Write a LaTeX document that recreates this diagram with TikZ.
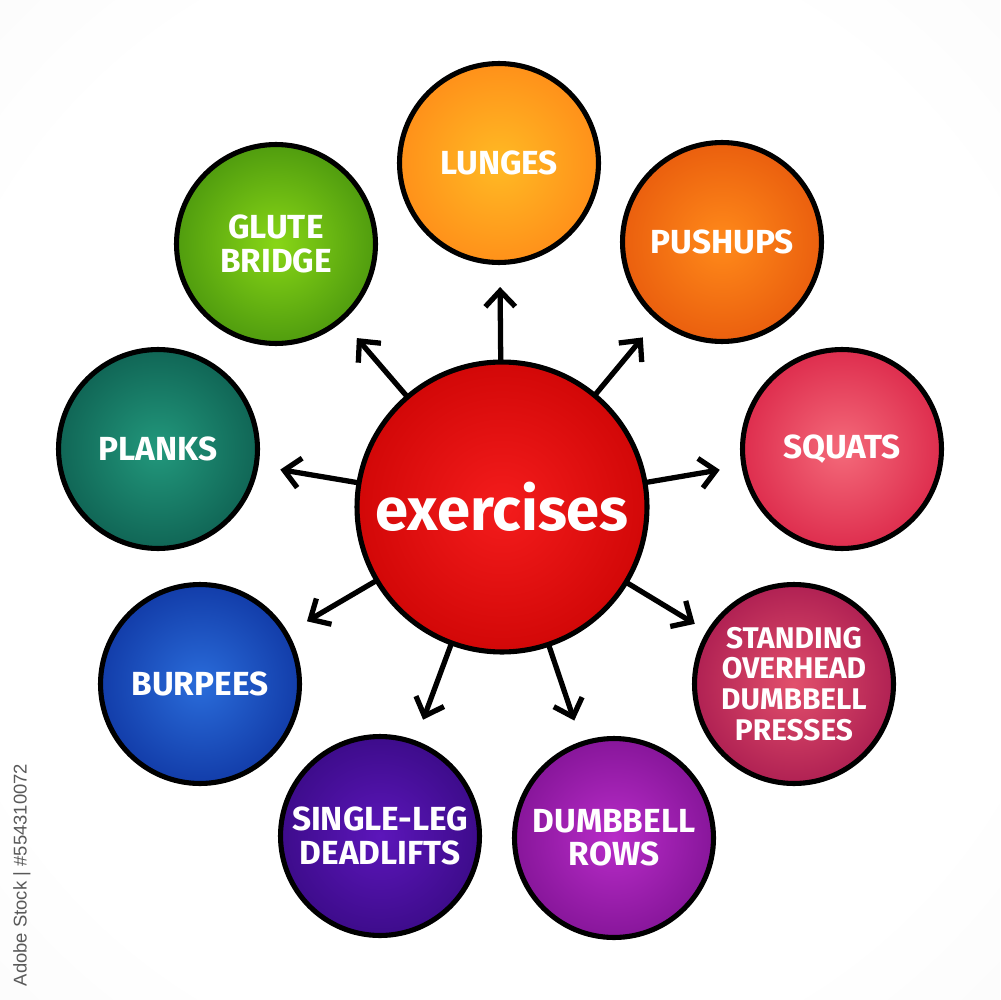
\documentclass[tikz,border=0pt]{standalone}
\usepackage{fontspec}
\setmainfont{Fira Sans}
\newfontfamily\wmfont{Liberation Sans}
\usetikzlibrary{arrows.meta}
\newcommand\mkshade[3]{%
  \definecolor{#1i}{HTML}{#2}\definecolor{#1o}{HTML}{#3}%
  \pgfdeclareradialshading{#1sh}{\pgfpoint{0bp}{0bp}}{color(0bp)=(#1i); color(34bp)=(#1o); color(72bp)=(#1o)}}
\mkshade{cen}{F41C1C}{C60000}
\mkshade{lun}{FFBA24}{FF8216}
\mkshade{pus}{FF8A1A}{E3500A}
\mkshade{squ}{F46A7A}{D6183E}
\mkshade{sta}{E2506C}{9E104A}
\mkshade{row}{B82CC8}{760E8A}
\mkshade{sin}{5C16BA}{32087A}
\mkshade{bur}{2A6CDA}{0A2C98}
\mkshade{pla}{22987C}{0A5448}
\mkshade{glu}{88D616}{3C880C}
\definecolor{bgo}{HTML}{EDEDED}
\pgfdeclareradialshading{bgsh}{\pgfpoint{0bp}{0bp}}{color(0bp)=(white); color(28bp)=(white); color(71bp)=(bgo)}
\begin{document}
\begin{tikzpicture}[x=0.02cm,y=-0.02cm,
  bub/.style={circle, draw=black, line width=2.9pt, minimum size=3.98cm, inner sep=0pt,
    text=white, align=center, font=\bfseries\fontsize{19}{19}\selectfont, shade, shading=#1sh},
  arr/.style={draw=black, line width=3pt, line cap=round, line join=round,
    -{Straight Barb[length=9pt,width=17pt,line width=3pt]}, shorten >=0.44cm}]
\useasboundingbox (0,0) rectangle (1000,1000);
\shade[shading=bgsh] (0,0) rectangle (1000,1000);
\node[bub=cen, minimum size=5.8cm, font=\bfseries\fontsize{34}{34}\selectfont] (c) at (502,507) {exercises};
\node[bub=lun] (lun) at (499,163) {LUNGES};
\node[bub=pus] (push) at (722,242) {PUSHUPS};
\node[bub=squ] (squ) at (842,449) {SQUATS};
\node[bub=sta, font=\bfseries\fontsize{17}{17.5}\selectfont] (stand) at (794,684) {STANDING\\OVERHEAD\\DUMBBELL\\PRESSES};
\node[bub=row] (rows) at (614,838) {DUMBBELL\\ROWS};
\node[bub=sin] (single) at (380,836) {SINGLE-LEG\\DEADLIFTS};
\node[bub=bur] (burp) at (200,684) {BURPEES};
\node[bub=pla] (plank) at (158,449) {PLANKS};
\node[bub=glu] (glute) at (276,244) {GLUTE\\BRIDGE};
\foreach \t in {lun,push,squ,rows,single,burp,plank,glute}
  \draw[arr] (c) -- (\t);
\draw[arr, shorten >=0.28cm] (c) -- (stand);
\node[rotate=90, text=black!65, font=\wmfont\fontsize{10.5}{12}\selectfont] (wm) at (22,875) {Adobe Stock | \#554310072};
\end{tikzpicture}
\end{document}
